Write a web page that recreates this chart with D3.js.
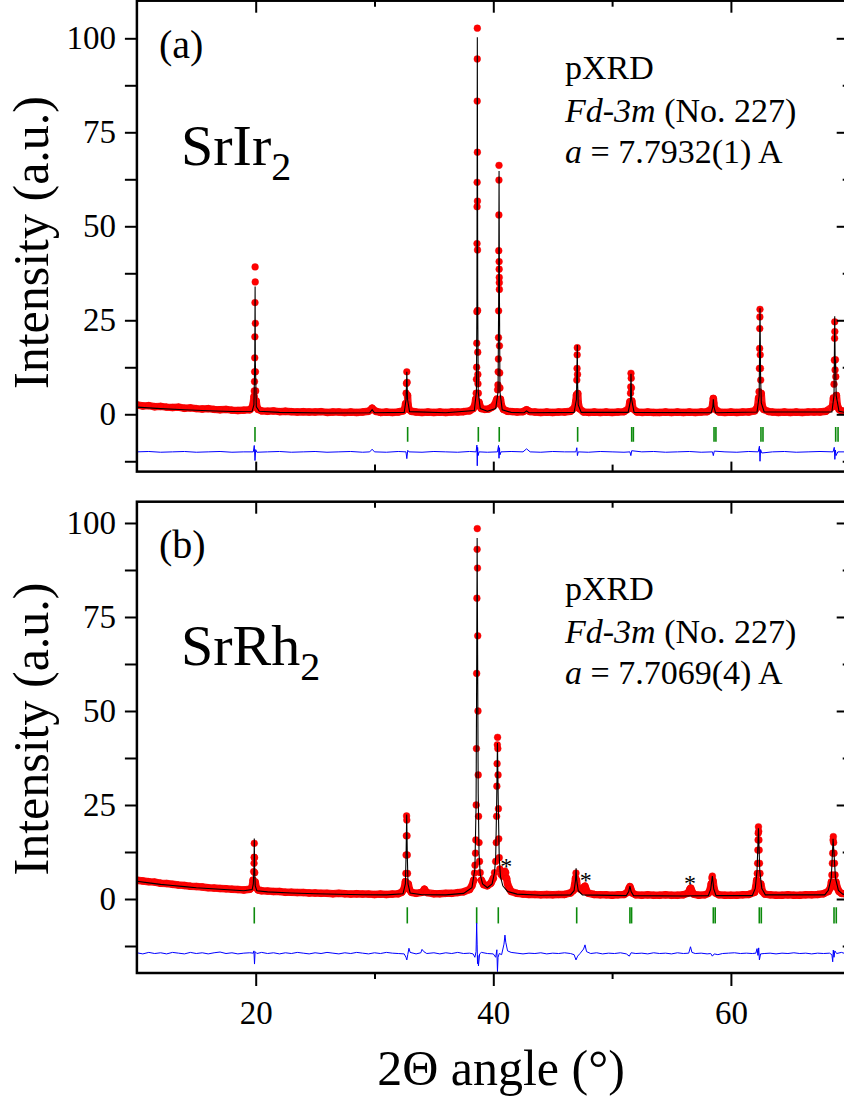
<!DOCTYPE html>
<html><head><meta charset="utf-8">
<script src="https://cdn.jsdelivr.net/npm/d3@7"></script>
<style>body{margin:0;background:#fff}svg{display:block}text{font-family:"Liberation Serif","Times New Roman",serif;fill:#000}</style>
</head><body>
<script>
// ---------- DATA ----------
const xMajor = [20, 40, 60];
const xMinor = [30, 50];
const yMajor = [0, 25, 50, 75, 100];
const yMinor = [-12.5, 12.5, 37.5, 62.5, 87.5];

// Panel (a) SrIr2 observed [2theta, intensity]
const obsA = [[10,2.5],[10.5,2.2],[11,2.3],[11.5,2.0],[12,2.1],[12.5,1.9],[13,1.8],[13.5,1.9],[14,1.6],[14.5,1.7],[15,1.5],[15.5,1.4],[16,1.5],[16.5,1.3],[17,1.2],[17.5,1.3],[18,1.1],[18.5,1.0],[19,1.1],[19.5,1.2],
[19.7,1.8],[19.8,3.0],[19.86,4.7],[19.88,6.2],[19.9,8.7],[19.91,11.3],[19.92,15.0],[19.93,20.6],[19.94,29.7],[19.95,39.2],[19.96,35.2],[19.97,24.2],[19.98,11.3],[20.0,6.2],[20.04,3.5],[20.1,2.0],[20.2,1.3],
[20.5,0.9],[21,0.8],[21.5,0.9],[22,0.7],[22.5,0.8],[23,0.7],[23.5,0.6],[24,0.7],[24.5,0.6],[25,0.6],[25.5,0.7],[26,0.5],[26.5,0.6],[27,0.6],[27.5,0.5],[28,0.6],[28.5,0.5],[29,0.6],[29.5,0.8],[29.8,1.6],[30.1,0.8],[30.5,0.5],[31,0.6],[31.5,0.5],[32,0.6],[32.4,0.9],
[32.55,1.5],[32.62,2.8],[32.66,5.6],[32.69,8.2],[32.72,11.3],[32.75,8.5],[32.78,5.0],[32.82,2.6],[32.9,1.3],[33.1,0.8],
[33.5,0.6],[34,0.5],[34.5,0.6],[35,0.5],[35.5,0.6],[36,0.5],[36.5,0.6],[37,0.6],[37.5,0.7],[38,0.9],[38.3,1.5],
[38.45,2.5],[38.52,4.0],[38.56,5.6],[38.58,9.3],[38.6,12.5],[38.61,18.9],[38.62,27.3],[38.63,45.4],[38.635,55.2],[38.64,61.7],[38.645,83.3],[38.65,94.5],[38.655,102.7],[38.66,69.7],[38.665,56.7],[38.67,43.7],[38.68,27.6],[38.69,16.5],[38.7,10.6],[38.71,8.1],[38.74,5.6],[38.8,3.2],[38.9,2.0],[39.0,1.5],
[39.3,1.3],[39.6,1.4],[39.9,1.9],[40.1,2.5],
[40.3,4.0],[40.36,6.5],[40.39,7.8],[40.41,11.3],[40.43,14.7],[40.44,20.4],[40.45,27.5],[40.46,43.5],[40.47,53.0],[40.475,62.3],[40.48,66.2],[40.49,40.6],[40.495,38.6],[40.5,36.4],[40.505,35.0],[40.51,33.2],[40.52,18.2],[40.54,11.0],[40.56,7.0],[40.6,4.0],[40.7,2.2],[40.85,1.3],
[41.2,0.8],[41.6,0.7],[42,0.6],[42.5,0.7],[42.8,1.2],[43.1,0.7],[43.5,0.6],[44,0.5],[44.5,0.6],[45,0.5],[45.5,0.6],[46,0.6],[46.5,0.8],
[46.85,1.8],[46.95,3.5],[47.0,5.1],[47.03,9.1],[47.05,12.2],[47.06,15.8],[47.07,17.7],[47.09,10.6],[47.11,5.5],[47.15,3.0],[47.25,1.5],
[47.6,0.6],[48,0.5],[48.5,0.6],[49,0.5],[49.5,0.6],[50,0.5],[50.5,0.6],[51,0.7],
[51.4,1.5],[51.5,3.3],[51.55,5.6],[51.57,7.3],[51.59,10.9],[51.61,9.6],[51.63,7.0],[51.66,3.5],[51.75,1.5],
[52.1,0.6],[52.5,0.5],[53,0.6],[53.5,0.5],[54,0.5],[54.5,0.6],[55,0.5],[55.5,0.6],[56,0.5],[56.5,0.6],[57,0.5],[57.5,0.6],[58,0.7],
[58.4,1.5],[58.48,2.9],[58.52,4.2],[58.56,3.0],[58.62,1.5],
[59,0.6],[59.5,0.5],[60,0.6],[60.5,0.5],[61,0.6],[61.5,0.6],[62,0.9],
[62.25,2.0],[62.33,4.3],[62.37,6.0],[62.4,12.2],[62.42,17.5],[62.43,22.8],[62.44,25.9],[62.45,27.9],[62.47,15.8],[62.49,12.2],[62.51,9.1],[62.55,5.5],[62.62,2.5],[62.75,1.3],
[63.2,0.7],[63.5,0.6],[64,0.5],[64.5,0.6],[65,0.5],[65.5,0.6],[66,0.5],[66.5,0.6],[67,0.6],[67.5,0.6],[68,0.8],
[68.55,2.0],[68.63,4.3],[68.68,8.0],[68.71,14.4],[68.73,20.2],[68.74,24.6],[68.75,22.0],[68.77,11.8],[68.8,14.5],[68.83,10.0],[68.88,5.0],[68.95,2.5],[69.1,1.3],[69.3,0.9],[69.5,0.8],[69.7,0.8]];

// Panel (a) calculated
const calcA = [[10,1.9],[12,1.5],[14,1.2],[16,0.95],[18,0.75],[19.7,0.8],[19.85,2.5],[19.92,14],[19.95,34],[19.97,14],[20.05,2.0],[20.3,0.8],[22,0.5],[26,0.35],[29.6,0.4],[29.8,1.2],[30,0.4],[32.5,0.5],[32.66,4],[32.72,11.3],[32.78,4],[32.95,0.7],[36,0.4],[38.4,1.0],[38.58,6],[38.62,30],[38.655,100.3],[38.69,30],[38.73,6],[38.9,1.5],[39.5,0.8],[40.2,1.5],[40.4,6],[40.45,30],[40.485,64.7],[40.52,30],[40.56,6],[40.75,1.2],[41.5,0.5],[42.6,0.4],[42.8,0.9],[43,0.4],[46.8,0.5],[47.0,4],[47.07,18.4],[47.1,8],[47.15,2.5],[47.4,0.5],[51.35,0.5],[51.54,3.5],[51.59,10.8],[51.64,4],[51.85,0.5],[58.35,0.4],[58.48,2],[58.52,4.0],[58.57,2],[58.7,0.4],[62.2,0.6],[62.38,5],[62.45,28.2],[62.5,10],[62.56,3],[62.8,0.6],[68.5,0.6],[68.68,5],[68.74,26.1],[68.78,12],[68.81,14.5],[68.86,5],[69.1,0.8],[69.7,0.4]];

// Panel (a) difference (obs - calc, offset)
const diffA = [[10,-10],[11,-9.9],[12,-10.1],[13,-10],[14,-9.9],[15,-10.1],[16,-10],[17,-9.9],[18,-10.1],[19,-10],[19.8,-10],[19.88,-8.3],[19.94,-12.3],[20.0,-9.4],[20.1,-10.1],[21,-10],[22,-9.9],[23,-10.1],[24,-10],[25,-9.9],[26,-10.1],[27,-10],[28,-9.9],[29,-10.1],[29.6,-10],[29.8,-9.3],[30.0,-10],[31,-10.1],[32,-9.9],[32.65,-10],[32.72,-11.8],[32.8,-9.6],[32.9,-10],[34,-10.1],[35,-9.9],[36,-10],[37,-10.1],[38,-9.9],[38.55,-10],[38.62,-8.2],[38.65,-13.7],[38.68,-8.8],[38.72,-11],[38.8,-10],[39.5,-10.1],[40.35,-10],[40.44,-8.3],[40.48,-11.7],[40.52,-8.9],[40.56,-10.8],[40.65,-10],[41.5,-9.9],[42.5,-10],[42.8,-9.2],[43.1,-10],[44,-10.1],[45,-9.9],[46,-10],[46.95,-10],[47.03,-8.9],[47.08,-11],[47.15,-10],[48,-10.1],[49,-9.9],[50,-10],[51,-10.1],[51.5,-10],[51.58,-11],[51.65,-9.7],[52.5,-10],[53.5,-9.9],[54.5,-10.1],[55.5,-10],[56.5,-9.9],[57.5,-10.1],[58.45,-10],[58.52,-11],[58.6,-9.8],[59.5,-10],[60.5,-10.1],[61.5,-9.9],[62.3,-10],[62.4,-8.5],[62.45,-12.5],[62.5,-9.4],[62.6,-10.3],[63.5,-10],[64.5,-9.9],[65.5,-10.1],[66.5,-10],[67.5,-9.9],[68.6,-10],[68.7,-8.8],[68.75,-12],[68.8,-9.5],[68.85,-11],[69,-10],[69.7,-10]];

// Panel (a) Bragg positions
const braggA = [19.94, 32.79, 38.74, 40.5, 47.1, 51.65, 51.79, 58.58, 58.74, 62.53, 62.70, 68.82, 69.02];

// Panel (b) SrRh2 observed
const obsB = [[10,5.0],[10.5,4.8],[11,4.6],[11.5,4.5],[12,4.2],[12.5,4.1],[13,3.9],[13.5,3.7],[14,3.6],[14.5,3.4],[15,3.3],[15.5,3.2],[16,3.0],[16.5,2.9],[17,2.8],[17.5,2.7],[18,2.6],[18.5,2.5],[19,2.4],[19.5,2.6],
[19.7,3.2],[19.78,5.0],[19.83,7.3],[19.86,9.5],[19.87,11.1],[19.88,14.8],[19.9,11.0],[19.92,7.0],[19.96,4.5],[20.05,3.0],[20.2,2.4],
[20.5,2.2],[21,2.1],[21.5,2.0],[22,2.0],[22.5,1.8],[23,1.8],[23.5,1.7],[24,1.7],[24.5,1.6],[25,1.6],[25.5,1.5],[26,1.5],[26.5,1.4],[27,1.5],[27.5,1.4],[28,1.3],[28.5,1.4],[29,1.3],[29.5,1.3],[30,1.2],[30.5,1.3],[31,1.2],[31.5,1.3],[32,1.4],[32.3,1.8],
[32.5,2.8],[32.6,4.6],[32.64,6.8],[32.66,11.7],[32.68,16.8],[32.7,22.1],[32.72,21.0],[32.74,16.8],[32.76,11.7],[32.78,6.8],[32.84,4.0],[32.95,2.5],[33.1,1.8],
[33.5,1.5],[34.0,1.8],[34.2,2.6],[34.4,1.7],[35,1.4],[35.5,1.4],[36,1.5],[36.5,1.5],[37,1.7],[37.5,1.9],[38.0,2.5],[38.2,3.5],
[38.35,5.0],[38.42,6.9],[38.46,9.0],[38.5,12.2],[38.53,15.7],[38.56,25],[38.58,40],[38.6,60],[38.62,80],[38.64,93],[38.65,98.5],[38.67,88],[38.69,70],[38.71,50],[38.73,33],[38.76,22],[38.8,15.0],[38.84,10],[38.9,7],[39.0,5],[39.2,3.8],[39.5,3.5],[39.8,4.2],[40.0,5.5],
[40.1,7.0],[40.2,10],[40.25,15],[40.28,22],[40.3,30],[40.32,36],[40.34,41],[40.36,43],[40.38,40],[40.4,33],[40.43,24],[40.46,16],[40.5,11],[40.55,8],[40.65,6.5],
[40.8,6.0],[40.9,6.8],[40.98,7.4],[41.05,7.0],[41.12,5.5],[41.2,4.0],[41.35,2.8],[41.5,2.0],
[42,1.5],[42.5,1.3],[43,1.2],[43.5,1.2],[44,1.1],[44.5,1.2],[45,1.1],[45.5,1.2],[46,1.2],[46.5,1.6],
[46.75,2.3],[46.85,3.8],[46.92,5.5],[46.96,6.9],[47.0,5.0],[47.08,3.0],
[47.55,2.2],[47.65,3.2],[47.72,3.4],[47.8,2.6],[47.95,1.6],
[48.5,1.2],[49,1.1],[49.5,1.1],[50,1.0],[50.5,1.1],[51,1.2],
[51.3,1.8],[51.42,2.8],[51.5,3.3],[51.58,2.6],[51.7,1.6],
[52,1.1],[52.5,1.0],[53,1.1],[53.5,1.0],[54,1.0],[54.5,1.1],[55,1.0],[55.5,1.0],[56,1.1],[56.4,1.6],
[56.55,2.6],[56.62,2.9],[56.7,2.2],[56.85,1.3],
[57.3,1.0],[57.8,1.1],[58.1,1.5],
[58.25,2.5],[58.34,4.0],[58.4,5.6],[58.44,6.1],[58.5,4.8],[58.58,2.8],[58.7,1.6],
[59,1.1],[59.5,1.0],[60,1.0],[60.5,1.0],[61,1.1],[61.5,1.2],[62,1.8],
[62.1,3.3],[62.17,5.0],[62.22,6.8],[62.25,9.5],[62.27,13.0],[62.29,15.7],[62.3,17.5],[62.32,19.2],[62.34,18.0],[62.36,15.7],[62.38,13.0],[62.41,9.5],[62.45,6.8],[62.52,4.0],[62.65,2.0],[62.85,1.3],
[63.3,1.1],[63.8,1.0],[64.3,1.0],[64.8,1.1],[65.3,1.0],[65.8,1.0],[66.3,1.1],[66.8,1.1],[67.3,1.2],[67.8,1.4],[68.2,2.0],
[68.38,3.0],[68.46,4.5],[68.5,6.4],[68.54,9.5],[68.57,12.2],[68.6,15.7],[68.62,16.6],[68.65,15.0],[68.68,12.2],[68.72,9.5],[68.77,6.4],[68.84,4.5],[68.95,3.0],[69.1,2.0],[69.3,1.5],[69.7,1.3]];

// Panel (b) calculated
const calcB = [[10,4.7],[11,4.3],[12,3.9],[13,3.6],[14,3.3],[15,3.0],[16,2.8],[17,2.6],[18,2.4],[19,2.2],[19.7,2.5],[19.8,4],[19.86,9],[19.88,16.1],[19.91,8],[19.96,3.5],[20.1,2.2],[21,1.9],[23,1.6],[25,1.4],[27,1.25],[29,1.15],[31,1.1],[32.4,1.4],[32.6,4],[32.66,12],[32.71,22.5],[32.76,12],[32.82,4],[33.0,1.6],[34,1.15],[36,1.1],[37.5,1.5],[38.2,3],[38.45,8],[38.55,25],[38.6,60],[38.64,96],[38.68,65],[38.73,28],[38.8,12],[38.9,6.5],[39.1,4],[39.5,3],[39.9,4],[40.1,7],[40.2,11],[40.28,25],[40.35,41.5],[40.42,25],[40.5,11],[40.6,6],[40.8,3.5],[41.2,2.0],[42,1.3],[44,1.0],[46.5,1.1],[46.8,2.2],[46.92,5],[46.97,8.2],[47.02,5],[47.15,2.2],[47.5,1.1],[51.2,0.9],[51.4,2.0],[51.5,3.4],[51.6,2.0],[51.8,0.9],[56,0.8],[58.1,0.9],[58.3,2.6],[58.44,6.1],[58.56,2.6],[58.75,0.9],[61.8,0.9],[62.05,2.8],[62.2,7.5],[62.32,18.8],[62.43,7.5],[62.6,2.8],[62.9,1.1],[67.9,1.1],[68.2,2.3],[68.45,5.6],[68.6,16.0],[68.7,11],[68.8,5.6],[69.05,2.3],[69.4,1.3],[69.7,1.1]];

// Panel (b) difference
const diffB = [[10,-14.3],[10.5,-14.6],[11,-14.2],[11.5,-14.5],[12,-14.3],[12.5,-14.6],[13,-14.2],[13.5,-14.4],[14,-14.6],[14.5,-14.2],[15,-14.5],[15.5,-14.3],[16,-14.6],[16.5,-14.3],[17,-14.1],[17.5,-14.5],[18,-14.3],[18.5,-14.6],[19,-14.4],[19.5,-14.3],[19.8,-14.4],[19.85,-13.8],[19.9,-17.3],[19.95,-14.0],[20.1,-14.5],[20.5,-14.2],[21,-14.5],[21.5,-14.3],[22,-14.6],[22.5,-14.3],[23,-14.5],[23.5,-14.2],[24,-14.4],[24.5,-14.6],[25,-14.3],[25.5,-14.5],[26,-14.2],[26.5,-14.4],[27,-14.6],[27.5,-14.3],[28,-14.5],[28.5,-14.2],[29,-14.4],[29.5,-14.6],[30,-14.3],[30.5,-14.5],[31,-14.2],[31.5,-14.4],[32,-14.5],[32.5,-14.6],[32.65,-15.5],[32.72,-16.2],[32.8,-14.8],[32.9,-13.1],[33.0,-14.2],[33.5,-14.6],[33.9,-14.3],[34.0,-13.4],[34.15,-14.0],[34.4,-14.5],[35,-14.3],[35.5,-14.6],[36,-14.3],[36.5,-14.5],[37,-14.2],[37.5,-14.5],[38,-14.4],[38.3,-14.6],[38.45,-15.5],[38.55,-14.0],[38.6,-6.4],[38.64,-12],[38.67,-17.2],[38.7,-15],[38.75,-17.8],[38.85,-14.6],[39,-14.2],[39.5,-14.5],[40,-14.6],[40.2,-15.5],[40.3,-13.5],[40.35,-19.3],[40.4,-15.5],[40.5,-14.5],[40.7,-14.8],[40.9,-12],[40.98,-9.6],[41.05,-11.5],[41.2,-13.8],[41.5,-14.2],[42,-14.4],[42.5,-14.6],[43,-14.4],[43.5,-14.5],[44,-14.3],[44.5,-14.6],[45,-14.4],[45.5,-14.5],[46,-14.3],[46.5,-14.5],[46.8,-14.8],[46.96,-16.2],[47.1,-15.2],[47.3,-14.5],[47.6,-13.3],[47.72,-12.2],[47.85,-14.0],[48.2,-14.5],[48.7,-14.3],[49.2,-14.6],[49.7,-14.4],[50.2,-14.5],[50.7,-14.3],[51.2,-14.6],[51.45,-15.2],[51.6,-14.3],[52,-14.5],[52.5,-14.4],[53,-14.6],[53.5,-14.3],[54,-14.5],[54.5,-14.4],[55,-14.6],[55.5,-14.3],[56,-14.5],[56.45,-14.4],[56.6,-12.7],[56.72,-14.2],[57,-14.5],[57.5,-14.4],[58,-14.6],[58.3,-14.5],[58.44,-15.2],[58.6,-14.6],[58.9,-14.8],[59.3,-14.5],[59.8,-14.4],[60.3,-14.3],[60.8,-14.5],[61.3,-14.4],[61.8,-14.5],[62.1,-14.4],[62.2,-13.2],[62.28,-15.0],[62.34,-13.0],[62.4,-16.2],[62.5,-14.6],[62.8,-14.5],[63.3,-14.4],[63.8,-14.6],[64.3,-14.4],[64.8,-14.5],[65.3,-14.3],[65.8,-14.5],[66.3,-14.4],[66.8,-14.6],[67.3,-14.4],[67.8,-14.5],[68.3,-14.4],[68.5,-14.8],[68.57,-16.7],[68.62,-13.6],[68.68,-15.5],[68.75,-13.8],[68.9,-14.5],[69.3,-14.2],[69.7,-14.6]];

const braggB = [19.88, 32.76, 38.6, 40.42, 47.02, 51.5, 51.64, 58.52, 58.68, 62.39, 62.56, 68.68, 68.87];

// impurity peaks (*) in panel (b)
const starsB = [[41.08, 9.65], [47.78, 5.9], [56.55, 5.2]];

const panelLabels = ["(a)", "(b)"];
const compounds = ["SrIr", "SrRh"];
const lattices = ["7.7932(1)", "7.7069(4)"];

// ---------- DRAW ----------
const W = 844, H = 1097;
const svg = d3.select("body").append("svg").attr("width", W).attr("height", H);
const x = d3.scaleLinear().domain([10, 70]).range([136.9, 849.7]);

const panels = [
  {obs: obsA, calc: calcA, diff: diffA, bragg: braggA, stars: [], yDom: [-15.25, 110], top: 0.7, bottom: 471.6,
   braggY: [-3.4, -7.3], lblY: 58, cmpY: 165, annY: 79, titleY: 242.5, bottomLabels: false, i: 0},
  {obs: obsB, calc: calcB, diff: diffB, bragg: braggB, stars: starsB, yDom: [-19.68, 105.66], top: 501.7, bottom: 973,
   braggY: [-2.2, -6.5], lblY: 558, cmpY: 665, annY: 600, titleY: 729, bottomLabels: true, i: 1}
];

panels.forEach(p => {
  const y = d3.scaleLinear().domain(p.yDom).range([p.bottom, p.top]);
  const g = svg.append("g");
  const cid = "clip" + p.i;
  svg.append("clipPath").attr("id", cid).append("rect")
    .attr("x", x(10)).attr("y", p.top).attr("width", x(70) - x(10)).attr("height", p.bottom - p.top);
  const pg = g.append("g").attr("clip-path", `url(#${cid})`);

  // Bragg ticks
  pg.selectAll("line.bragg").data(p.bragg).join("line").attr("class", "bragg")
    .attr("x1", d => x(d)).attr("x2", d => x(d))
    .attr("y1", y(p.braggY[0])).attr("y2", y(p.braggY[1]))
    .attr("stroke", "#0c8a0c").attr("stroke-width", 1.6);

  // difference
  pg.append("path").datum(p.diff)
    .attr("d", d3.line().x(d => x(d[0])).y(d => y(d[1])))
    .attr("fill", "none").attr("stroke", "#0000ff").attr("stroke-width", 1);

  // observed band (background region) + dots
  pg.append("path").datum(p.obs)
    .attr("d", d3.line().defined(d => d[1] < 5.6).x(d => x(d[0])).y(d => y(d[1])))
    .attr("fill", "none").attr("stroke", "#ff1010").attr("stroke-width", 7.5)
    .attr("stroke-linejoin", "round").attr("stroke-linecap", "round");
  pg.selectAll("circle.obs").data(p.obs).join("circle").attr("class", "obs")
    .attr("cx", d => x(d[0])).attr("cy", d => y(d[1])).attr("r", 3.4)
    .attr("fill", "#ff0000").attr("stroke", "#e80000").attr("stroke-width", 0.4);

  // calculated
  pg.append("path").datum(p.calc)
    .attr("d", d3.line().x(d => x(d[0])).y(d => y(d[1])))
    .attr("fill", "none").attr("stroke", "#000").attr("stroke-width", 1.1);

  // stars
  pg.selectAll("text.star").data(p.stars).join("text").attr("class", "star")
    .attr("x", d => x(d[0])).attr("y", d => y(d[1]) + 11.5)
    .attr("text-anchor", "middle").attr("font-size", 24).text("*");

  // axes
  const fontAxis = sel => sel.selectAll("text").attr("font-size", 33).attr("font-family", "Liberation Serif");
  const noDomain = sel => sel.select(".domain").remove();
  const styleTicks = sel => sel.selectAll("line").attr("stroke", "#000").attr("stroke-width", 2);

  g.append("g").attr("transform", `translate(${x(10)},0)`)
    .call(d3.axisLeft(y).tickValues(yMajor).tickSize(12).tickPadding(9).tickFormat(d3.format("d")))
    .call(noDomain).call(styleTicks).call(fontAxis);
  g.append("g").attr("transform", `translate(${x(10)},0)`)
    .call(d3.axisLeft(y).tickValues(yMinor).tickSize(12).tickFormat(""))
    .call(noDomain).call(styleTicks);
  g.append("g").attr("transform", `translate(${x(70)},0)`)
    .call(d3.axisRight(y).tickValues(yMajor).tickSize(-13).tickFormat(""))
    .call(noDomain).call(styleTicks);
  g.append("g").attr("transform", `translate(${x(70)},0)`)
    .call(d3.axisRight(y).tickValues(yMinor).tickSize(-7).tickFormat(""))
    .call(noDomain).call(styleTicks);
  g.append("g").attr("transform", `translate(0,${p.top})`)
    .call(d3.axisTop(x).tickValues(xMajor).tickSize(-12).tickFormat(""))
    .call(noDomain).call(styleTicks);
  g.append("g").attr("transform", `translate(0,${p.top})`)
    .call(d3.axisTop(x).tickValues(xMinor).tickSize(-6).tickFormat(""))
    .call(noDomain).call(styleTicks);
  if (p.bottomLabels) {
    g.append("g").attr("transform", `translate(0,${p.bottom})`)
      .call(d3.axisBottom(x).tickValues(xMajor).tickSize(13).tickPadding(15).tickFormat(d3.format("d")))
      .call(noDomain).call(styleTicks).call(fontAxis);
    g.append("g").attr("transform", `translate(0,${p.bottom})`)
      .call(d3.axisBottom(x).tickValues(xMinor).tickSize(6).tickFormat(""))
      .call(noDomain).call(styleTicks);
  } else {
    g.append("g").attr("transform", `translate(0,${p.bottom})`)
      .call(d3.axisBottom(x).tickValues(xMajor).tickSize(-10).tickFormat(""))
      .call(noDomain).call(styleTicks);
    g.append("g").attr("transform", `translate(0,${p.bottom})`)
      .call(d3.axisBottom(x).tickValues(xMinor).tickSize(-7).tickFormat(""))
      .call(noDomain).call(styleTicks);
  }
  // frame
  g.append("rect").attr("x", x(10)).attr("y", p.top).attr("width", x(70) - x(10)).attr("height", p.bottom - p.top)
    .attr("fill", "none").attr("stroke", "#000").attr("stroke-width", 2.5);

  // labels
  g.append("text").attr("x", 159).attr("y", p.lblY).attr("font-size", 40).text(panelLabels[p.i]);
  const c = g.append("text").attr("x", 181).attr("y", p.cmpY).attr("font-size", 58);
  c.append("tspan").text(compounds[p.i]);
  c.append("tspan").attr("font-size", 40).attr("dy", 15).text("2");

  g.append("text").attr("x", 565).attr("y", p.annY).attr("font-size", 34).text("pXRD");
  const t2 = g.append("text").attr("x", 565).attr("y", p.annY + 42.5).attr("font-size", 34);
  t2.append("tspan").attr("font-style", "italic").text("Fd-3m");
  t2.append("tspan").text(" (No. 227)");
  const t3 = g.append("text").attr("x", 565).attr("y", p.annY + 84).attr("font-size", 34);
  t3.append("tspan").attr("font-style", "italic").text("a");
  t3.append("tspan").text(" = " + lattices[p.i] + " A");

  g.append("text").attr("transform", `translate(48,${p.titleY}) rotate(-90)`)
    .attr("text-anchor", "middle").attr("font-size", 50).text("Intensity (a.u.)");
});

svg.append("text").attr("x", 501).attr("y", 1085).attr("text-anchor", "middle").attr("font-size", 50)
  .text("2Θ angle (°)");
</script>
</body></html>
